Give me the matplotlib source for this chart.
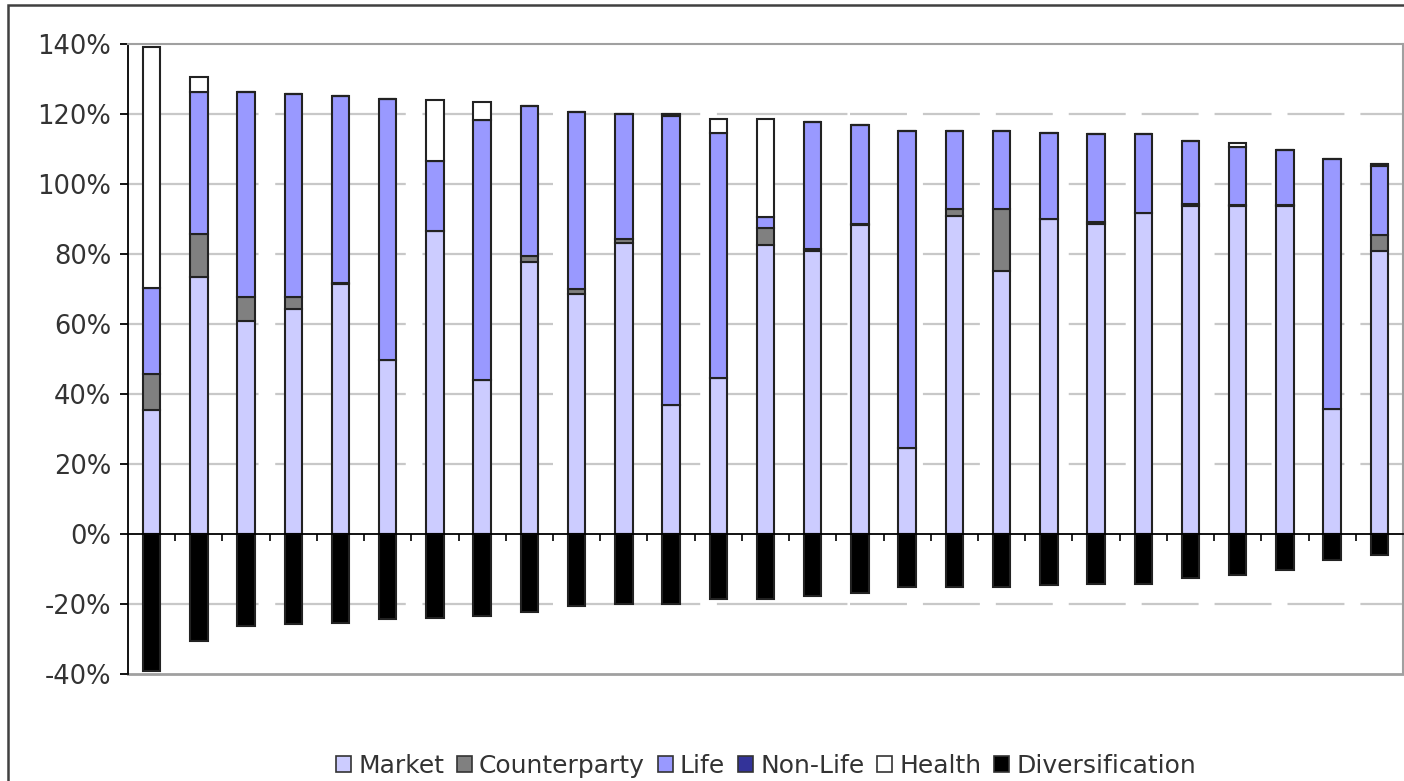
import matplotlib
matplotlib.use("Agg")
import matplotlib.pyplot as plt
import numpy as np
from matplotlib.patches import Patch, Rectangle

plt.rcParams['font.family'] = ['DejaVu Sans']
plt.rcParams['lines.scale_dashes'] = False

series_names = ["Market", "Counterparty", "Life", "Non-Life", "Health", "Diversification"]
market = [35.5, 73.5, 60.9, 64.3, 71.5, 49.8, 86.5, 44.1, 77.6, 68.6, 83.2, 36.9, 44.6, 82.5,
          80.9, 88.4, 24.5, 91.0, 75.2, 90.1, 88.7, 91.8, 93.8, 93.6, 93.6, 35.6, 81.0]
counterparty = [10.3, 12.1, 6.8, 3.5, 0.3, 0.0, 0.0, 0.0, 1.7, 1.4, 1.0, 0.0, 0.0, 4.9,
                0.4, 0.3, 0.0, 1.9, 17.6, 0.0, 0.5, 0.0, 0.4, 0.4, 0.4, 0.0, 4.5]
life = [24.5, 40.6, 58.5, 57.9, 53.4, 74.6, 20.1, 74.1, 43.0, 50.5, 35.8, 82.6, 70.1, 3.2,
        36.4, 28.2, 90.6, 22.2, 22.3, 24.6, 25.0, 22.4, 18.2, 16.5, 15.7, 71.5, 19.6]
nonlife = [0.0, 0.0, 0.0, 0.0, 0.0, 0.0, 0.0, 0.0, 0.0, 0.0, 0.0, 0.5, 0.0, 0.0,
           0.0, 0.0, 0.0, 0.0, 0.0, 0.0, 0.0, 0.0, 0.0, 0.0, 0.0, 0.0, 0.5]
health = [68.8, 4.5, 0.0, 0.0, 0.0, 0.0, 17.3, 5.3, 0.0, 0.0, 0.0, 0.0, 4.0, 28.1,
          0.0, 0.0, 0.0, 0.0, 0.0, 0.0, 0.0, 0.0, 0.0, 1.1, 0.0, 0.0, 0.0]
diversification = [-39.1, -30.7, -26.3, -25.8, -25.3, -24.4, -24.0, -23.5, -22.3, -20.5, -20.1,
                   -20.1, -18.7, -18.7, -17.8, -16.9, -15.2, -15.2, -15.2, -14.7, -14.3, -14.3,
                   -12.5, -11.6, -10.3, -7.3, -5.9]
y_ticks = [-40, -20, 0, 20, 40, 60, 80, 100, 120, 140]

colors = ["#CCCCFF", "#808080", "#9999FF", "#333399", "#FFFFFF", "#000000"]

W, H = 1404, 781
fig = plt.figure(figsize=(W / 100, H / 100), dpi=100)
ax = fig.add_axes([128 / W, 1 - 674 / H, (1403 - 128) / W, (674 - 44) / H])

x = np.arange(len(market))
bw = 0.37
bottom = np.zeros(len(market))
for vals, col in zip([market, counterparty, life, nonlife, health], colors[:5]):
    v = np.array(vals)
    ax.bar(x, v, bw, bottom=bottom, color=col, edgecolor="#222222", linewidth=1.5, zorder=3)
    bottom += v
ax.bar(x, diversification, bw, color=colors[5], edgecolor="#222222", linewidth=1.5, zorder=3)

ax.set_xlim(-0.5, len(market) - 0.5)
ax.set_ylim(-40, 140)

# gridlines (two dash patterns like reference)
split = (850 - 128) / (1403 - 128)
for g in [-20, 20, 40, 60, 80, 100, 120]:
    l1 = ax.axhline(g, xmin=0, xmax=split, color="#C8C8C8", linewidth=1.6, zorder=1)
    l1.set_dashes((94, 12))
    l2 = ax.axhline(g, xmin=split, xmax=1, color="#C8C8C8", linewidth=1.6, zorder=1)
    l2.set_dashes((41, 11.5))

# plot area border
for s in ["top", "right"]:
    ax.spines[s].set_color("#A0A0A0")
    ax.spines[s].set_linewidth(1.5)
ax.axhline(-40, color="#A0A0A0", linewidth=2.0, zorder=2, clip_on=False)
ax.spines["left"].set_color("black")
ax.spines["left"].set_linewidth(1.3)
ax.spines["bottom"].set_position(("data", 0))
ax.spines["bottom"].set_color("black")
ax.spines["bottom"].set_linewidth(1.3)
ax.spines["bottom"].set_zorder(4)

ax.set_xticks(np.arange(len(market) - 1) + 0.5)
ax.set_xticklabels([])
ax.tick_params(axis="x", direction="out", length=5, width=1.2, color="black")

ax.set_yticks(y_ticks)
ax.set_yticklabels([f"{t}%" for t in y_ticks])
ax.tick_params(axis="y", direction="out", length=6, width=1.3, color="black",
               labelsize=18.5, labelcolor="#333333", pad=6)

# outer chart frame
fig.patches.append(Rectangle((8 / W, -0.05), 1.2, 1 - 5 / H + 0.05, transform=fig.transFigure,
                             fill=False, edgecolor="#404040", linewidth=1.8))

handles = [Patch(facecolor=c, edgecolor="#333333", linewidth=1.2) for c in colors]
fig.legend(handles, series_names, loc="center", bbox_to_anchor=(766 / W, 1 - 766 / H),
           ncol=6, frameon=False, fontsize=18, handlelength=0.6, handleheight=0.6,
           handletextpad=0.3, columnspacing=0.5, labelcolor="#333333", borderaxespad=0)

fig.savefig("out.png", dpi=100)
